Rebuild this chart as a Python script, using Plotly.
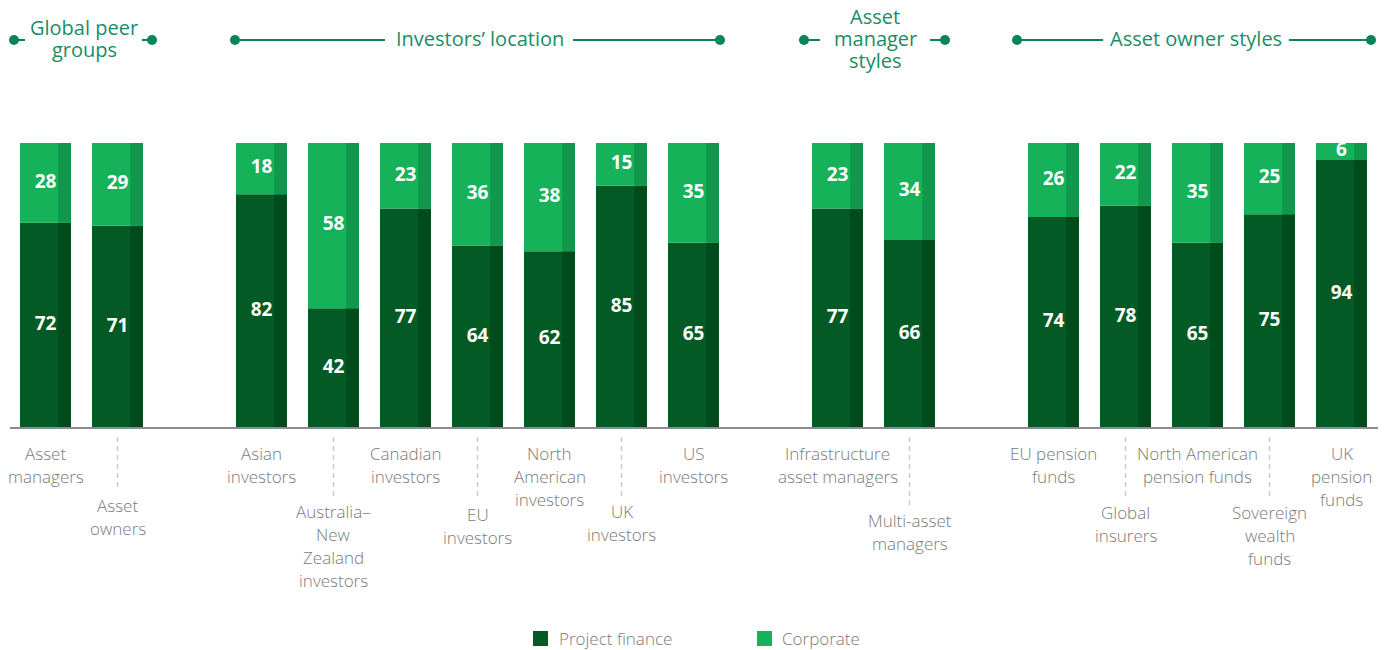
import plotly.graph_objects as go

# --- data ---
categories = [
    "Asset<br>managers", "Asset<br>owners",
    "Asian<br>investors", "Australia–<br>New<br>Zealand<br>investors", "Canadian<br>investors",
    "EU<br>investors", "North<br>American<br>investors", "UK<br>investors", "US<br>investors",
    "Infrastructure<br>asset managers", "Multi-asset<br>managers",
    "EU pension<br>funds", "Global<br>insurers", "North American<br>pension funds",
    "Sovereign<br>wealth<br>funds", "UK<br>pension<br>funds",
]
project_finance = [72, 71, 82, 42, 77, 64, 62, 85, 65, 77, 66, 74, 78, 65, 75, 94]
corporate = [28, 29, 18, 58, 23, 36, 38, 15, 35, 23, 34, 26, 22, 35, 25, 6]
group_names = ["Global peer<br>groups", "Investors’ location", "Asset<br>manager<br>styles", "Asset owner styles"]
group_sizes = [2, 7, 2, 5]
series_names = ["Project finance", "Corporate"]

# --- styling / layout constants ---
PF, PF_SHADE = "#045a24", "#014a1c"
CO, CO_SHADE = "#15b25a", "#10994c"
HEAD = "#1a8d66"
DOT = "#07845a"
GREY = "#7a7a7a"
FONT = "Open Sans"
W, H = 1387, 650
X0, SLOT = 45.5, 72.0      # pixel centre of first slot, pixels per slot
Y0, UNIT = 428.0, 2.85     # baseline pixel, pixels per percentage point
BAR_W, SHADE_W = 0.708, 0.177

# first-line pixel centre of each category label (staggered rows)
label_top = [453, 505, 453, 511, 453, 514, 453, 511, 453, 453, 520, 453, 512, 453, 512, 453]
# header decorations: (left dot, left line end, right line start, right dot, text centre) in px
header_px = [
    (14, 25, 142, 152, 84),
    (235, 385, 573, 720, 480),
    (804, 820, 930, 945, 875),
    (1017, 1103, 1289, 1371, 1196),
]


def xd(px):
    return (px - X0) / SLOT


def yd(py):
    return (Y0 - py) / UNIT


# slot positions: one empty slot between groups
slots = []
pos = 0
for size in group_sizes:
    slots.extend(range(pos, pos + size))
    pos += size + 1

fig = go.Figure()

bases = [0] * len(project_finance)
for vals, base, col, shade in [(project_finance, bases, PF, PF_SHADE),
                               (corporate, project_finance, CO, CO_SHADE)]:
    fig.add_trace(go.Bar(x=slots, y=vals, base=base, width=BAR_W, offset=-BAR_W / 2,
                         marker=dict(color=col, line_width=0), showlegend=False, hoverinfo="skip"))
    fig.add_trace(go.Bar(x=slots, y=vals, base=base, width=SHADE_W, offset=BAR_W / 2 - SHADE_W,
                         marker=dict(color=shade, line_width=0), showlegend=False, hoverinfo="skip"))

# value labels
fig.add_trace(go.Scatter(
    x=slots + slots,
    y=[p / 2 for p in project_finance] + [p + c / 2 for p, c in zip(project_finance, corporate)],
    text=[str(v) for v in project_finance + corporate],
    mode="text", textposition="middle center",
    textfont=dict(family=FONT, size=19, color="white", weight="bold"),
    showlegend=False, hoverinfo="skip", cliponaxis=False,
))

shapes = []
annotations = []

# baseline
shapes.append(dict(type="line", xref="x", yref="y", x0=xd(10), x1=xd(1378), y0=0, y1=0,
                   line=dict(color="#8c8c8c", width=2), layer="above"))

# category labels with staggered rows and dashed leaders
for s, label, top in zip(slots, categories, label_top):
    for i, line in enumerate(label.split("<br>")):
        annotations.append(dict(x=s, y=yd(top + 23 * i), xref="x", yref="y", text=line,
                                showarrow=False, xanchor="center", yanchor="middle",
                                font=dict(family=FONT, size=17, color=GREY, weight=300)))
    if top > 470:
        shapes.append(dict(type="line", xref="x", yref="y", x0=s, x1=s, y0=yd(437), y1=yd(top - 15),
                           line=dict(color="#cccccc", width=1.5, dash="5px,4px")))

# group headers
dot_x = []
for name, (l_dot, l_end, r_start, r_dot, cx) in zip(group_names, header_px):
    lines = name.split("<br>")
    n = len(lines)
    for i, line in enumerate(lines):
        annotations.append(dict(x=xd(cx), y=yd(38.5 + 22 * (i - (n - 1) / 2)), xref="x", yref="y",
                                text=line, showarrow=False, xanchor="center", yanchor="middle",
                                font=dict(family=FONT, size=20, color=HEAD)))
    for a, b in [(l_dot, l_end), (r_start, r_dot)]:
        shapes.append(dict(type="line", xref="x", yref="y", x0=xd(a), x1=xd(b), y0=yd(40), y1=yd(40),
                           line=dict(color=DOT, width=2)))
    dot_x += [xd(l_dot), xd(r_dot)]

fig.add_trace(go.Scatter(x=dot_x, y=[yd(40)] * len(dot_x), mode="markers",
                         marker=dict(size=10, color=DOT), showlegend=False,
                         hoverinfo="skip", cliponaxis=False))

# legend (drawn by hand to match spacing)
for name, col, sq, tx in [(series_names[0], PF, 540.5, 557), (series_names[1], CO, 764.5, 780)]:
    fig.add_trace(go.Scatter(x=[xd(sq)], y=[yd(638.5)], mode="markers",
                             marker=dict(symbol="square", size=15, color=col, line_width=0),
                             showlegend=False, hoverinfo="skip", cliponaxis=False))
    annotations.append(dict(x=xd(tx), y=yd(638.5), xref="x", yref="y", text=name, showarrow=False,
                            xanchor="left", yanchor="middle",
                            font=dict(family=FONT, size=17, color=GREY, weight=300)))

fig.update_layout(
    width=W, height=H,
    margin=dict(l=0, r=0, t=0, b=0),
    barmode="overlay",
    plot_bgcolor="white", paper_bgcolor="white",
    xaxis=dict(range=[xd(0), xd(W)], visible=False, fixedrange=True),
    yaxis=dict(range=[yd(H), yd(0)], visible=False, fixedrange=True),
    shapes=shapes,
    annotations=annotations,
    showlegend=False,
)

# page body has a default 8px margin; drop it so the figure fills the window
fig.write_html("out.html", config={"displayModeBar": False},
               post_script="document.body.style.margin='0';document.body.style.overflow='hidden';")
